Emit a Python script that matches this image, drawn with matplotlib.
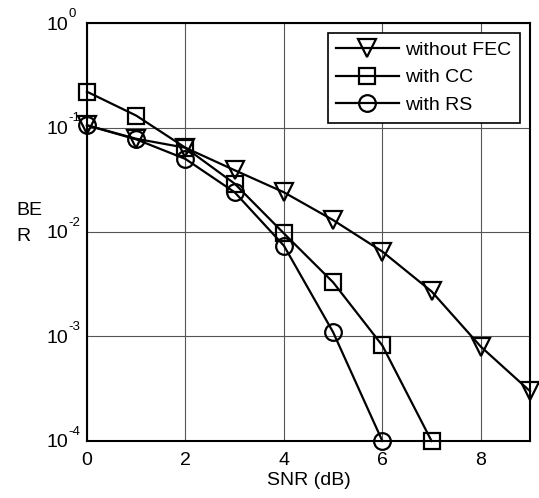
import matplotlib
matplotlib.use("Agg")
import matplotlib.pyplot as plt
from matplotlib.ticker import FixedLocator, FixedFormatter, NullLocator

plt.rcParams['font.family'] = ['Liberation Sans', 'DejaVu Sans']

snr = [0, 1, 2, 3, 4, 5, 6, 7, 8, 9]
ber_nofec = [0.105, 0.078, 0.064, 0.039, 0.024, 0.013, 0.0065, 0.0027, 0.0008, 0.0003]
snr_cc = [0, 1, 2, 3, 4, 5, 6, 7]
ber_cc = [0.22, 0.13, 0.064, 0.029, 0.0097, 0.0033, 0.00082, 0.0001]
snr_rs = [0, 1, 2, 3, 4, 5, 6]
ber_rs = [0.105, 0.077, 0.050, 0.024, 0.0074, 0.0011, 0.0001]

labels = ['without FEC', 'with CC', 'with RS']
xticks = [0, 2, 4, 6, 8]
yexps = [-4, -3, -2, -1, 0]

fig = plt.figure(figsize=(5.39, 4.98), dpi=100)
ax = fig.add_axes([0.1614, 0.1145, 0.8219, 0.8393])

kw = dict(color='black', linewidth=1.6, markerfacecolor='none',
          markeredgecolor='black', markeredgewidth=1.6, clip_on=False, zorder=3)
ax.plot(snr, ber_nofec, marker='v', markersize=13, label=labels[0], **kw)
ax.plot(snr_cc, ber_cc, marker='s', markersize=11, label=labels[1], **kw)
ax.plot(snr_rs, ber_rs, marker='o', markersize=12, label=labels[2], **kw)

ax.set_yscale('log')
ax.set_xlim(0, 9)
ax.set_ylim(1e-4, 1)
ax.xaxis.set_major_locator(FixedLocator(xticks))
ax.yaxis.set_major_locator(FixedLocator([10.0 ** e for e in yexps]))
ax.yaxis.set_minor_locator(NullLocator())
ax.xaxis.set_minor_locator(NullLocator())
ax.yaxis.set_major_formatter(FixedFormatter(['10'] * len(yexps)))
ax.tick_params(axis='both', length=0, labelsize=14, colors='black')
ax.tick_params(axis='y', pad=13.7)
ax.tick_params(axis='x', pad=8)
for e in yexps:
    ax.annotate('%d' % e, xy=(0, 10.0 ** e), xycoords=('axes fraction', 'data'),
                xytext=(-13.3, 6.5), textcoords='offset points', ha='left', va='center',
                fontsize=9.5, annotation_clip=False)
ax.grid(True, color='#555555', linewidth=0.8)
for s in ax.spines.values():
    s.set_linewidth(1.5)
    s.set_color('black')

ax.set_xlabel('SNR (dB)', fontsize=14, labelpad=2)
fig.text(16 / 539, 1 - 223.5 / 498, 'BE\nR', fontsize=14, ha='left', va='center',
         multialignment='left', linespacing=1.7)

leg = ax.legend(loc='upper right', fontsize=14, frameon=True, fancybox=False,
                edgecolor='black', framealpha=1, borderpad=0.45, labelspacing=0.5,
                handlelength=3.2, handletextpad=0.35, borderaxespad=0.5)
leg.get_frame().set_linewidth(1.2)

fig.savefig('out.png', dpi=100)
